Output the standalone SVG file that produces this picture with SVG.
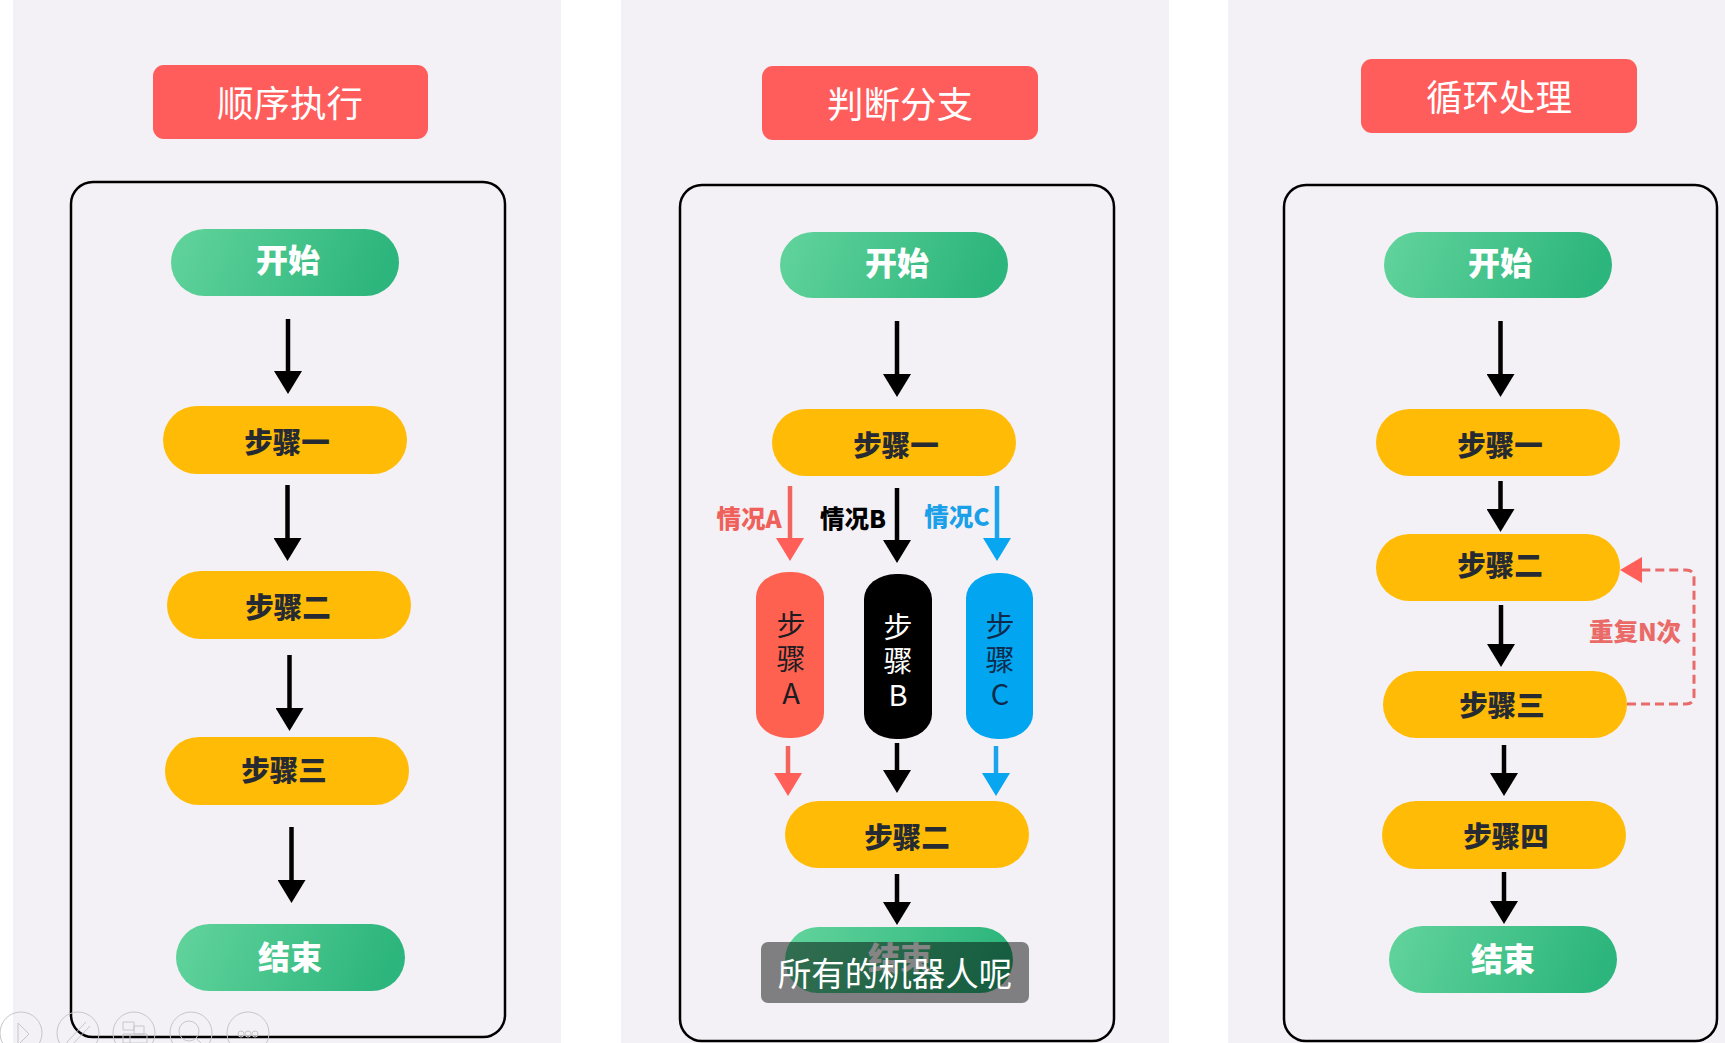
<svg xmlns="http://www.w3.org/2000/svg" width="1725" height="1043" viewBox="0 0 1725 1043">
<style>
text{font-family:"Noto Sans CJK SC","Noto Sans",sans-serif;text-anchor:middle;dominant-baseline:central}
.panel{fill:#f3f1f5}
.frame{fill:none;stroke:#000;stroke-width:2.500}
.title rect{fill:#ff5c5c}
.title text{fill:#fff;font-size:36.500px;font-weight:400}
.g rect{fill:url(#green)}
.g text{fill:#fff;font-size:32px;font-weight:900}
.y rect{fill:#ffbb05}
.y text{fill:#262a33;font-size:28.500px;font-weight:900}
.pill text{font-size:29px;font-weight:400}
.lb{font-size:24.500px;font-weight:900}
.k{stroke:#000;stroke-width:4.500;fill:none;marker-end:url(#ak)}
.r{stroke:#f0665f;stroke-width:4.500;fill:none;marker-end:url(#ar)}
.b{stroke:#1ba4ec;stroke-width:4.500;fill:none;marker-end:url(#ab)}
.tb{fill:none;stroke:#c6c6ca;stroke-width:1}
</style>
<defs>
<linearGradient id="green" x1="0" y1="0" x2="1" y2="0.12"><stop offset="0" stop-color="#62d49c"/><stop offset="1" stop-color="#2cb57c"/></linearGradient>
<marker id="ak" markerUnits="userSpaceOnUse" markerWidth="23" markerHeight="28" refX="0" refY="14" orient="auto"><path d="M0 0L23 14L0 28Z" fill="#000"/></marker>
<marker id="ar" markerUnits="userSpaceOnUse" markerWidth="23" markerHeight="28" refX="0" refY="14" orient="auto"><path d="M0 0L23 14L0 28Z" fill="#ff5f58"/></marker>
<marker id="ab" markerUnits="userSpaceOnUse" markerWidth="23" markerHeight="28" refX="0" refY="14" orient="auto"><path d="M0 0L23 14L0 28Z" fill="#08a5f0"/></marker>
</defs>
<rect width="1725" height="1043" fill="#fff"/>
<rect class="panel" x="13" y="0" width="548" height="1043"/>
<rect class="panel" x="621" y="0" width="548" height="1043"/>
<rect class="panel" x="1228" y="0" width="497" height="1043"/>
<rect class="frame" x="71" y="182" width="434" height="855" rx="22"/>
<rect class="frame" x="680" y="185" width="434" height="856" rx="22"/>
<rect class="frame" x="1284" y="185" width="433" height="856" rx="22"/>

<g id="connectors">
<path class="k" d="M288 319V371"/>
<path class="k" d="M287.500 485V538"/>
<path class="k" d="M289.500 655V708"/>
<path class="k" d="M291.500 827V880"/>
<path class="k" d="M897 321V374"/>
<path class="r" d="M790 486V538"/>
<path class="k" d="M897 488V540"/>
<path class="b" d="M997 486V538"/>
<path class="r" d="M788 746V773"/>
<path class="k" d="M897 743V770"/>
<path class="b" d="M996 746V773"/>
<path class="k" d="M897 874V902"/>
<path class="k" d="M1500.500 321V374"/>
<path class="k" d="M1500.500 481V509"/>
<path class="k" d="M1501 605V644"/>
<path class="k" d="M1504 745V773"/>
<path class="k" d="M1504 872V901"/>
<path d="M1627 704H1686Q1694 704 1694 696V578Q1694 570 1686 570H1642" fill="none" stroke="#e96a6a" stroke-width="3" stroke-dasharray="9 5"/>
<path d="M1620 570L1642 557V583Z" fill="#ff5f58"/>
</g>

<g id="t1" class="title"><rect x="153" y="65" width="275" height="74" rx="11"/><text x="290" y="101">顺序执行</text></g>
<g id="t2" class="title"><rect x="762" y="66" width="276" height="74" rx="11"/><text x="900" y="102">判断分支</text></g>
<g id="t3" class="title"><rect x="1361" y="59" width="276" height="74" rx="11"/><text x="1499" y="95">循环处理</text></g>

<g id="a-start" class="g"><rect x="171" y="229" width="228" height="67" rx="33.500"/><text x="288" y="258">开始</text></g>
<g id="a-1" class="y"><rect x="163" y="406" width="244" height="68" rx="34"/><text x="287" y="440.500">步骤一</text></g>
<g id="a-2" class="y"><rect x="167" y="571" width="244" height="68" rx="34"/><text x="288" y="605.500">步骤二</text></g>
<g id="a-3" class="y"><rect x="165" y="737" width="244" height="68" rx="34"/><text x="284" y="768.500">步骤三</text></g>
<g id="a-end" class="g"><rect x="176" y="924" width="229" height="67" rx="33.500"/><text x="290" y="955">结束</text></g>

<g id="b-start" class="g"><rect x="780" y="232" width="228" height="66" rx="33"/><text x="897" y="261">开始</text></g>
<g id="b-1" class="y"><rect x="772" y="409" width="244" height="67" rx="33.500"/><text x="896" y="443.500">步骤一</text></g>
<g id="b-a" class="pill"><rect x="756" y="572" width="68" height="166" rx="32" ry="25" fill="#ff6150"/><text x="791" y="623" fill="#1c1c22">步</text><text x="791" y="657" fill="#1c1c22">骤</text><text x="791" y="691" fill="#1c1c22">A</text></g>
<g id="b-b" class="pill"><rect x="864" y="574" width="68" height="165" rx="32" ry="25" fill="#000"/><text x="898" y="625" fill="#fff">步</text><text x="898" y="659" fill="#fff">骤</text><text x="898" y="693" fill="#fff">B</text></g>
<g id="b-c" class="pill"><rect x="966" y="573" width="67" height="166" rx="32" ry="25" fill="#02a5ef"/><text x="1000" y="624" fill="#0d2a4a">步</text><text x="1000" y="658" fill="#0d2a4a">骤</text><text x="1000" y="692" fill="#0d2a4a">C</text></g>
<text class="lb" x="749" y="517" fill="#f0605a">情况A</text>
<text class="lb" x="853" y="517" fill="#000">情况B</text>
<text class="lb" x="957" y="515" fill="#1aa0e8">情况C</text>
<g id="b-2" class="y"><rect x="785" y="801" width="244" height="67" rx="33.500"/><text x="907" y="835.500">步骤二</text></g>
<g id="b-end" class="g"><rect x="785" y="927" width="228" height="66" rx="33"/><text x="900" y="956">结束</text></g>

<g id="c-start" class="g"><rect x="1384" y="232" width="228" height="66" rx="33"/><text x="1500" y="261">开始</text></g>
<g id="c-1" class="y"><rect x="1376" y="409" width="244" height="67" rx="33.500"/><text x="1500" y="443.500">步骤一</text></g>
<g id="c-2" class="y"><rect x="1376" y="534" width="244" height="67" rx="33.500"/><text x="1500" y="563">步骤二</text></g>
<g id="c-3" class="y"><rect x="1383" y="671" width="244" height="67" rx="33.500"/><text x="1502" y="703">步骤三</text></g>
<g id="c-4" class="y"><rect x="1382" y="801" width="244" height="68" rx="34"/><text x="1506" y="834">步骤四</text></g>
<g id="c-end" class="g"><rect x="1389" y="926" width="228" height="67" rx="33.500"/><text x="1503" y="957">结束</text></g>
<text class="lb" x="1635" y="630" fill="#ea6a68">重复N次</text>

<g id="subtitle"><rect x="761" y="942" width="268" height="61" rx="7" fill="#000" fill-opacity=".48"/><text x="895" y="971" fill="#fff" font-size="33.500">所有的机器人呢</text></g>

<g id="toolbar">
<circle class="tb" cx="21" cy="1033" r="21"/><path class="tb" d="M18 1023L29 1034L18 1045Z"/>
<circle class="tb" cx="78" cy="1033" r="21"/><path class="tb" d="M67 1042L86 1022M71 1046L90 1026M67 1042L66 1048L71 1046"/>
<circle class="tb" cx="134" cy="1033" r="21"/><path class="tb" d="M123 1022H134V1030H123ZM134 1026H144V1034H134ZM123 1034H147V1043H123ZM130 1034V1043"/>
<circle class="tb" cx="191" cy="1033" r="21"/><circle class="tb" cx="189" cy="1031" r="10"/><path class="tb" d="M196 1038L204 1046"/>
<circle class="tb" cx="248" cy="1033" r="21"/><circle class="tb" cx="241" cy="1034" r="3"/><circle class="tb" cx="248" cy="1034" r="3"/><circle class="tb" cx="255" cy="1034" r="3"/>
</g>
</svg>
